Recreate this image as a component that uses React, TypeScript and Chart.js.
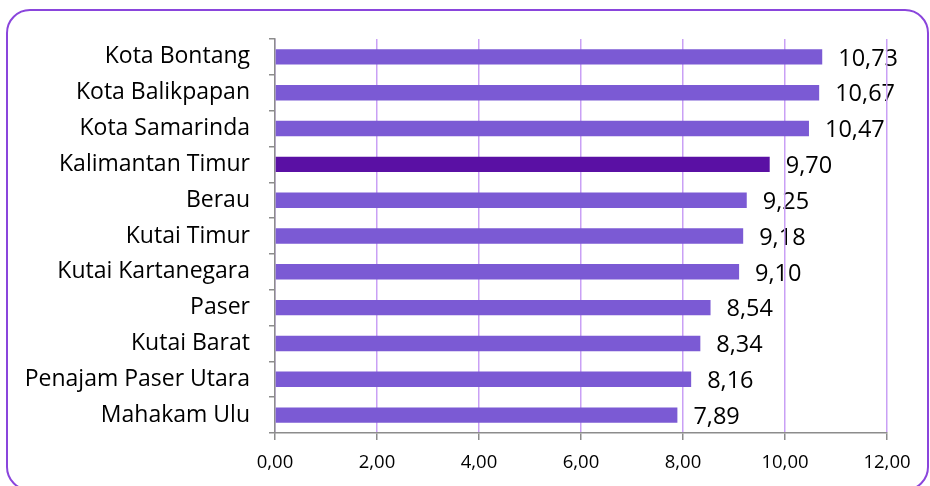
import React, { useEffect, useRef } from "react";
import { Chart, registerables } from "chart.js";

Chart.register(...registerables);

const categories = [
  "Kota Bontang",
  "Kota Balikpapan",
  "Kota Samarinda",
  "Kalimantan Timur",
  "Berau",
  "Kutai Timur",
  "Kutai Kartanegara",
  "Paser",
  "Kutai Barat",
  "Penajam Paser Utara",
  "Mahakam Ulu",
];
const values = [10.73, 10.67, 10.47, 9.7, 9.25, 9.18, 9.1, 8.54, 8.34, 8.16, 7.89];
const highlightCategory = "Kalimantan Timur";
const xTicks = [0, 2, 4, 6, 8, 10, 12];

const FONT = "'Open Sans', 'DejaVu Sans', sans-serif";
const BAR = "#7b5ad4";
const BAR_HI = "#5a10a4";
const GRID = "#c9a0f5";
const AXIS = "#8c8c8c";

const fmt = (v: number) => v.toFixed(2).replace(".", ",");

const labelPlugin = {
  id: "valueLabels",
  beforeDraw(chart: any) {
    const ctx = chart.ctx;
    const meta = chart.getDatasetMeta(0);
    ctx.save();
    ctx.fillStyle = "#000";
    ctx.font = `23.5px ${FONT}`;
    ctx.textAlign = "left";
    ctx.textBaseline = "middle";
    meta.data.forEach((bar: any, i: number) => {
      ctx.fillText(fmt(values[i]), bar.x + 16, bar.y + 2);
    });
    ctx.restore();
  },
};

export default function App() {
  const ref = useRef<HTMLCanvasElement | null>(null);
  useEffect(() => {
    if (!ref.current) return;
    const chart = new Chart(ref.current, {
      type: "bar",
      data: {
        labels: categories,
        datasets: [
          {
            data: values,
            backgroundColor: categories.map((c) => (c === highlightCategory ? BAR_HI : BAR)),
            barPercentage: 0.43,
            categoryPercentage: 1,
          },
        ],
      },
      options: {
        indexAxis: "y",
        animation: false,
        responsive: false,
        maintainAspectRatio: false,
        layout: { padding: { top: 39, right: 43, left: 0, bottom: 0 } },
        plugins: { legend: { display: false }, tooltip: { enabled: false } },
        scales: {
          x: {
            min: 0,
            max: 12,
            afterBuildTicks: (scale: any) => {
              scale.ticks = xTicks.map((v) => ({ value: v }));
            },
            afterFit: (scale: any) => {
              scale.height = 53;
            },
            ticks: {
              callback: (v: any) => fmt(Number(v)),
              font: { family: FONT, size: 18.5 },
              color: "#000",
              padding: 12,
              maxRotation: 0,
            },
            grid: {
              color: GRID,
              tickColor: AXIS,
              lineWidth: 1.5,
              tickLength: 7,
            },
            border: { color: AXIS, width: 1.5 },
          },
          y: {
            afterFit: (scale: any) => {
              scale.width = 275;
            },
            ticks: {
              font: { family: FONT, size: 23 },
              color: "#000",
              padding: 19,
            },
            grid: {
              drawOnChartArea: false,
              color: AXIS,
              lineWidth: 1.5,
              tickLength: 6,
            },
            border: { color: AXIS, width: 1.5 },
          },
        },
      },
      plugins: [labelPlugin],
    } as any);
    return () => chart.destroy();
  }, []);

  return (
    <div
      style={{
        position: "fixed",
        left: 0,
        top: 0,
        width: 930,
        height: 486,
        overflow: "hidden",
        background: "#fff",
      }}
    >
      <div
        style={{
          position: "absolute",
          left: 6,
          top: 9,
          width: 923,
          height: 482,
          boxSizing: "border-box",
          border: "2px solid #8a45dc",
          borderRadius: 24,
        }}
      />
      <canvas
        ref={ref}
        width={930}
        height={486}
        style={{ position: "absolute", left: 0, top: 0, width: 930, height: 486 }}
      />
    </div>
  );
}
